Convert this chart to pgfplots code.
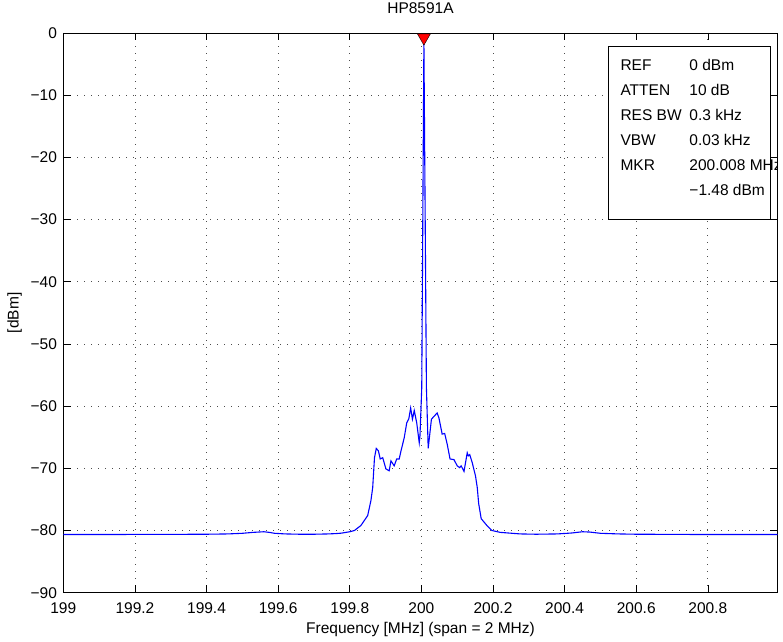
\documentclass[border=0pt]{standalone}
\usepackage{fontspec}
\setmainfont{Liberation Sans}
\usepackage{pgfplots}
\pgfplotsset{compat=1.18}
\begin{document}
\fontsize{15.5bp}{18bp}\selectfont
\begin{tikzpicture}
\begin{axis}[
  scale only axis, width=714.4bp, height=559.7bp,
  xmin=199, xmax=200.995, ymin=-90, ymax=0,
  xtick={199,199.2,199.4,199.6,199.8,200,200.2,200.4,200.6,200.8},
  xticklabels={199,199.2,199.4,199.6,199.8,200,200.2,200.4,200.6,200.8},
  ytick={-90,-80,-70,-60,-50,-40,-30,-20,-10,0},
  yticklabels={−90,−80,−70,−60,−50,−40,−30,−20,−10,0},
  tick align=inside, tick pos=both, major tick length=7.5bp,
  grid=major,
  grid style={black!70, dash pattern=on 1bp off 6bp, line width=0.8bp},
  axis line style={line width=0.8bp},
  every tick/.style={black, line width=0.7bp},
  xticklabel style={anchor=base, yshift=-20.6bp},
  yticklabel style={anchor=east, xshift=-1bp},
  title={HP8591A},
  title style={at={(axis description cs:0.5,1)}, anchor=base, yshift=14bp, inner sep=0pt},
  xlabel={Frequency [MHz] (span = 2 MHz)},
  xlabel style={at={(axis description cs:0.5,0)}, anchor=base, yshift=-41.3bp, inner sep=0pt},
  ylabel={[dBm]},
  ylabel style={at={(axis description cs:-0.0624,0.5)}, anchor=base, inner sep=0pt},
]
\addplot[blue, line width=1.1bp] coordinates {
(199.00,-80.65) (199.10,-80.65) (199.20,-80.63) (199.30,-80.62) (199.40,-80.6)
(199.46,-80.55) (199.50,-80.45) (199.53,-80.3) (199.56,-80.2) (199.575,-80.3)
(199.59,-80.45) (199.62,-80.55) (199.66,-80.6) (199.70,-80.6) (199.74,-80.55)
(199.76,-80.5) (199.776,-80.43) (199.80,-80.2) (199.813,-80.0) (199.831,-79.2)
(199.85,-77.6) (199.859,-75.2) (199.864,-73.1) (199.869,-68.3) (199.874,-66.8)
(199.88,-67.2) (199.885,-68.5) (199.892,-68.3) (199.901,-70.1) (199.91,-70.4)
(199.915,-68.8) (199.924,-69.6) (199.931,-68.5) (199.938,-68.5) (199.943,-67.2)
(199.952,-65.1) (199.959,-62.7) (199.965,-62.0) (199.97,-60.3) (199.975,-62.1)
(199.98,-60.7) (199.987,-62.7) (199.994,-65.9) (199.996,-64.8) (200.001,-57)
(200.007,-1.48) (200.014,-57) (200.019,-66.8) (200.028,-62.1) (200.036,-61.6)
(200.044,-61.1) (200.049,-61.9) (200.058,-64.5) (200.065,-64.4) (200.072,-66.1)
(200.08,-68.5) (200.091,-68.6) (200.1,-69.6) (200.107,-69.9) (200.111,-69.6)
(200.119,-70.5) (200.128,-67.5) (200.131,-68) (200.135,-67.8) (200.142,-69.1)
(200.151,-71.2) (200.156,-73.1) (200.16,-75.7) (200.167,-78.1) (200.183,-79.2)
(200.197,-80) (200.22,-80.3) (200.276,-80.55) (200.32,-80.6) (200.38,-80.55)
(200.42,-80.4) (200.45,-80.2) (200.47,-80.25) (200.50,-80.45) (200.55,-80.55)
(200.60,-80.6) (200.70,-80.62) (200.80,-80.65) (200.90,-80.65) (200.995,-80.65)
};
\addplot[only marks, mark=triangle*, mark size=7.5bp,
  mark options={rotate=180, fill=red, draw=black, line width=0.4bp}]
  coordinates {(200.007,-0.75)};
\begin{scope}
\clip (rel axis cs:0,0) rectangle (rel axis cs:1,1);
\draw[black, line width=0.8bp, fill=white] (axis cs:200.521,-2.2) rectangle (axis cs:200.974,-29.9);
\node[anchor=base west, inner sep=0pt] at (axis cs:200.5556,-6.03) {REF};
\node[anchor=base west, inner sep=0pt] at (axis cs:200.748,-6.03) {0 dBm};
\node[anchor=base west, inner sep=0pt] at (axis cs:200.5556,-10.05) {ATTEN};
\node[anchor=base west, inner sep=0pt] at (axis cs:200.748,-10.05) {10 dB};
\node[anchor=base west, inner sep=0pt] at (axis cs:200.5556,-14.07) {RES BW};
\node[anchor=base west, inner sep=0pt] at (axis cs:200.748,-14.07) {0.3 kHz};
\node[anchor=base west, inner sep=0pt] at (axis cs:200.5556,-18.09) {VBW};
\node[anchor=base west, inner sep=0pt] at (axis cs:200.748,-18.09) {0.03 kHz};
\node[anchor=base west, inner sep=0pt] at (axis cs:200.5556,-22.1) {MKR};
\node[anchor=base west, inner sep=0pt] at (axis cs:200.748,-22.1) {200.008 MHz};
\node[anchor=base west, inner sep=0pt] at (axis cs:200.748,-26.1) {−1.48 dBm};
\end{scope}
\end{axis}
\pgfresetboundingbox
\path[use as bounding box] (current axis.south west) ++(-63.3bp,-49.3bp) rectangle ([xshift=5.3bp,yshift=33bp]current axis.north east);
\end{tikzpicture}
\end{document}
